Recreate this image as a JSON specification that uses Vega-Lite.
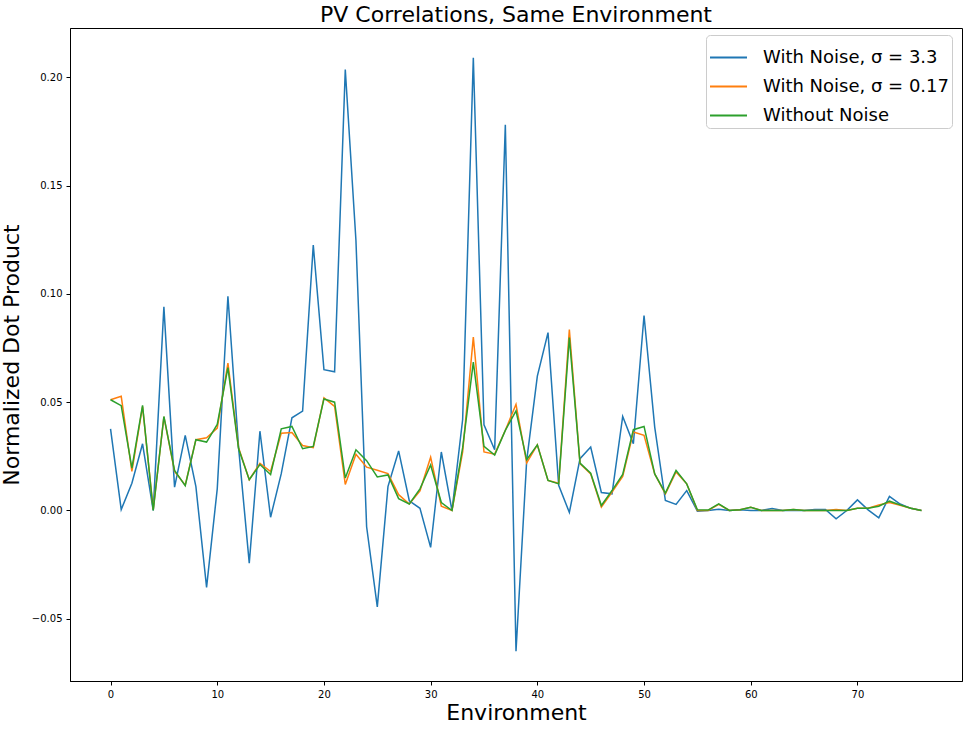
{
"$schema": "https://vega.github.io/schema/vega-lite/v6.json",
"width": 892, "height": 653,
"autosize": {"type": "none"},
"padding": {"left": 70, "top": 28, "right": 6, "bottom": 48},
"background": "white",
"title": {"text": "PV Correlations, Same Environment", "fontSize": 22, "font": "DejaVu Sans", "fontWeight": "normal", "color": "black", "anchor": "middle", "offset": 1},
"config": {
  "font": "DejaVu Sans",
  "view": {"stroke": "black", "strokeWidth": 1},
  "axis": {"grid": false, "domainColor": "black", "tickColor": "black", "labelColor": "black", "labelFontSize": 10, "labelFont": "DejaVu Sans", "tickSize": 4, "labelPadding": 4, "titleFontSize": 22, "titleFontWeight": "normal", "titleColor": "black", "titleFont": "DejaVu Sans"}
},
"data": {"values": [
{"x":0,"s":"a","v":0.0377},{"x":1,"s":"a","v":0.0004},{"x":2,"s":"a","v":0.0126},{"x":3,"s":"a","v":0.0308},{"x":4,"s":"a","v":0.0},{"x":5,"s":"a","v":0.094},{"x":6,"s":"a","v":0.0108},{"x":7,"s":"a","v":0.0347},{"x":8,"s":"a","v":0.011},{"x":9,"s":"a","v":-0.0355},
{"x":10,"s":"a","v":0.01},{"x":11,"s":"a","v":0.0989},{"x":12,"s":"a","v":0.029},{"x":13,"s":"a","v":-0.0243},{"x":14,"s":"a","v":0.0366},{"x":15,"s":"a","v":-0.0031},{"x":16,"s":"a","v":0.017},{"x":17,"s":"a","v":0.0428},{"x":18,"s":"a","v":0.0459},{"x":19,"s":"a","v":0.1225},
{"x":20,"s":"a","v":0.065},{"x":21,"s":"a","v":0.064},{"x":22,"s":"a","v":0.2035},{"x":23,"s":"a","v":0.1245},{"x":24,"s":"a","v":-0.0075},{"x":25,"s":"a","v":-0.0445},{"x":26,"s":"a","v":0.011},{"x":27,"s":"a","v":0.0275},{"x":28,"s":"a","v":0.0045},{"x":29,"s":"a","v":0.001},
{"x":30,"s":"a","v":-0.017},{"x":31,"s":"a","v":0.027},{"x":32,"s":"a","v":0.0},{"x":33,"s":"a","v":0.042},{"x":34,"s":"a","v":0.209},{"x":35,"s":"a","v":0.0395},{"x":36,"s":"a","v":0.028},{"x":37,"s":"a","v":0.178},{"x":38,"s":"a","v":-0.065},{"x":39,"s":"a","v":0.023},
{"x":40,"s":"a","v":0.062},{"x":41,"s":"a","v":0.0821},{"x":42,"s":"a","v":0.0116},{"x":43,"s":"a","v":-0.0009},{"x":44,"s":"a","v":0.0239},{"x":45,"s":"a","v":0.0293},{"x":46,"s":"a","v":0.0083},{"x":47,"s":"a","v":0.0077},{"x":48,"s":"a","v":0.0434},{"x":49,"s":"a","v":0.0308},
{"x":50,"s":"a","v":0.09},{"x":51,"s":"a","v":0.0385},{"x":52,"s":"a","v":0.0046},{"x":53,"s":"a","v":0.0028},{"x":54,"s":"a","v":0.0092},{"x":55,"s":"a","v":-0.0003},{"x":56,"s":"a","v":0.0},{"x":57,"s":"a","v":0.0006},{"x":58,"s":"a","v":0.0},{"x":59,"s":"a","v":0.0003},
{"x":60,"s":"a","v":0.0},{"x":61,"s":"a","v":0.0},{"x":62,"s":"a","v":0.0009},{"x":63,"s":"a","v":0.0},{"x":64,"s":"a","v":0.0},{"x":65,"s":"a","v":0.0},{"x":66,"s":"a","v":0.0005},{"x":67,"s":"a","v":0.0005},{"x":68,"s":"a","v":-0.0038},{"x":69,"s":"a","v":0.0},
{"x":70,"s":"a","v":0.0049},{"x":71,"s":"a","v":0.0003},{"x":72,"s":"a","v":-0.0034},{"x":73,"s":"a","v":0.0065},{"x":74,"s":"a","v":0.003},{"x":75,"s":"a","v":0.001},{"x":76,"s":"a","v":0.0},
{"x":0,"s":"b","v":0.0511},{"x":1,"s":"b","v":0.0527},{"x":2,"s":"b","v":0.018},{"x":3,"s":"b","v":0.048},{"x":4,"s":"b","v":0.0005},{"x":5,"s":"b","v":0.0432},{"x":6,"s":"b","v":0.018},{"x":7,"s":"b","v":0.0117},{"x":8,"s":"b","v":0.0327},{"x":9,"s":"b","v":0.0336},
{"x":10,"s":"b","v":0.038},{"x":11,"s":"b","v":0.068},{"x":12,"s":"b","v":0.029},{"x":13,"s":"b","v":0.0142},{"x":14,"s":"b","v":0.0218},{"x":15,"s":"b","v":0.018},{"x":16,"s":"b","v":0.0357},{"x":17,"s":"b","v":0.036},{"x":18,"s":"b","v":0.03},{"x":19,"s":"b","v":0.029},
{"x":20,"s":"b","v":0.052},{"x":21,"s":"b","v":0.048},{"x":22,"s":"b","v":0.012},{"x":23,"s":"b","v":0.026},{"x":24,"s":"b","v":0.02},{"x":25,"s":"b","v":0.0186},{"x":26,"s":"b","v":0.017},{"x":27,"s":"b","v":0.0073},{"x":28,"s":"b","v":0.003},{"x":29,"s":"b","v":0.009},
{"x":30,"s":"b","v":0.0246},{"x":31,"s":"b","v":0.002},{"x":32,"s":"b","v":0.0},{"x":33,"s":"b","v":0.027},{"x":34,"s":"b","v":0.08},{"x":35,"s":"b","v":0.027},{"x":36,"s":"b","v":0.026},{"x":37,"s":"b","v":0.037},{"x":38,"s":"b","v":0.049},{"x":39,"s":"b","v":0.022},
{"x":40,"s":"b","v":0.0303},{"x":41,"s":"b","v":0.0139},{"x":42,"s":"b","v":0.0126},{"x":43,"s":"b","v":0.0835},{"x":44,"s":"b","v":0.0216},{"x":45,"s":"b","v":0.0169},{"x":46,"s":"b","v":0.0016},{"x":47,"s":"b","v":0.0085},{"x":48,"s":"b","v":0.0157},{"x":49,"s":"b","v":0.0362},
{"x":50,"s":"b","v":0.0347},{"x":51,"s":"b","v":0.0169},{"x":52,"s":"b","v":0.0077},{"x":53,"s":"b","v":0.0178},{"x":54,"s":"b","v":0.0123},{"x":55,"s":"b","v":0.0},{"x":56,"s":"b","v":0.0},{"x":57,"s":"b","v":0.0028},{"x":58,"s":"b","v":0.0},{"x":59,"s":"b","v":0.0003},
{"x":60,"s":"b","v":0.0015},{"x":61,"s":"b","v":0.0},{"x":62,"s":"b","v":0.0},{"x":63,"s":"b","v":0.0},{"x":64,"s":"b","v":0.0005},{"x":65,"s":"b","v":0.0},{"x":66,"s":"b","v":0.0},{"x":67,"s":"b","v":0.0},{"x":68,"s":"b","v":0.0005},{"x":69,"s":"b","v":0.0},
{"x":70,"s":"b","v":0.001},{"x":71,"s":"b","v":0.001},{"x":72,"s":"b","v":0.0025},{"x":73,"s":"b","v":0.0037},{"x":74,"s":"b","v":0.0024},{"x":75,"s":"b","v":0.001},{"x":76,"s":"b","v":0.0},
{"x":0,"s":"c","v":0.0511},{"x":1,"s":"c","v":0.0484},{"x":2,"s":"c","v":0.0195},{"x":3,"s":"c","v":0.0485},{"x":4,"s":"c","v":0.0},{"x":5,"s":"c","v":0.0434},{"x":6,"s":"c","v":0.0185},{"x":7,"s":"c","v":0.0115},{"x":8,"s":"c","v":0.0327},{"x":9,"s":"c","v":0.0316},
{"x":10,"s":"c","v":0.0397},{"x":11,"s":"c","v":0.0659},{"x":12,"s":"c","v":0.0285},{"x":13,"s":"c","v":0.0142},{"x":14,"s":"c","v":0.0212},{"x":15,"s":"c","v":0.0166},{"x":16,"s":"c","v":0.0377},{"x":17,"s":"c","v":0.0388},{"x":18,"s":"c","v":0.0285},{"x":19,"s":"c","v":0.0296},
{"x":20,"s":"c","v":0.0515},{"x":21,"s":"c","v":0.05},{"x":22,"s":"c","v":0.015},{"x":23,"s":"c","v":0.028},{"x":24,"s":"c","v":0.023},{"x":25,"s":"c","v":0.0155},{"x":26,"s":"c","v":0.0164},{"x":27,"s":"c","v":0.0055},{"x":28,"s":"c","v":0.003},{"x":29,"s":"c","v":0.01},
{"x":30,"s":"c","v":0.021},{"x":31,"s":"c","v":0.0037},{"x":32,"s":"c","v":0.0},{"x":33,"s":"c","v":0.029},{"x":34,"s":"c","v":0.0685},{"x":35,"s":"c","v":0.0296},{"x":36,"s":"c","v":0.0256},{"x":37,"s":"c","v":0.037},{"x":38,"s":"c","v":0.046},{"x":39,"s":"c","v":0.0234},
{"x":40,"s":"c","v":0.0303},{"x":41,"s":"c","v":0.0139},{"x":42,"s":"c","v":0.0123},{"x":43,"s":"c","v":0.0798},{"x":44,"s":"c","v":0.0219},{"x":45,"s":"c","v":0.0172},{"x":46,"s":"c","v":0.0023},{"x":47,"s":"c","v":0.0092},{"x":48,"s":"c","v":0.0166},{"x":49,"s":"c","v":0.0373},
{"x":50,"s":"c","v":0.0388},{"x":51,"s":"c","v":0.0169},{"x":52,"s":"c","v":0.008},{"x":53,"s":"c","v":0.0185},{"x":54,"s":"c","v":0.0123},{"x":55,"s":"c","v":0.0003},{"x":56,"s":"c","v":0.0002},{"x":57,"s":"c","v":0.0031},{"x":58,"s":"c","v":0.0},{"x":59,"s":"c","v":0.0003},
{"x":60,"s":"c","v":0.0015},{"x":61,"s":"c","v":0.0},{"x":62,"s":"c","v":0.0},{"x":63,"s":"c","v":0.0},{"x":64,"s":"c","v":0.0005},{"x":65,"s":"c","v":0.0},{"x":66,"s":"c","v":0.0},{"x":67,"s":"c","v":0.0},{"x":68,"s":"c","v":0.0},{"x":69,"s":"c","v":0.0},
{"x":70,"s":"c","v":0.001},{"x":71,"s":"c","v":0.001},{"x":72,"s":"c","v":0.002},{"x":73,"s":"c","v":0.0043},{"x":74,"s":"c","v":0.0026},{"x":75,"s":"c","v":0.001},{"x":76,"s":"c","v":0.0}
]},
"mark": {"type": "line", "strokeWidth": 1.5, "clip": true},
"encoding": {
  "x": {"field": "x", "type": "quantitative", "scale": {"domain": [-3.8, 79.8], "nice": false, "zero": false}, "axis": {"values": [0,10,20,30,40,50,60,70], "title": "Environment", "titlePadding": 3}},
  "y": {"field": "v", "type": "quantitative", "scale": {"domain": [-0.0787, 0.2227], "nice": false, "zero": false}, "axis": {"values": [-0.05,0,0.05,0.1,0.15,0.2], "format": ".2f", "title": "Normalized Dot Product", "titlePadding": 8}},
  "color": {"field": "s", "type": "nominal", "scale": {"domain": ["a","b","c"], "range": ["#1f77b4","#ff7f0e","#2ca02c"]},
    "legend": {"title": null, "orient": "none", "legendX": 636, "legendY": 7, "labelExpr": "datum.label == 'a' ? 'With Noise, σ = 3.3' : datum.label == 'b' ? 'With Noise, σ = 0.17' : 'Without Noise'", "labelFontSize": 18, "labelFont": "DejaVu Sans", "labelColor": "black", "symbolType": "stroke", "symbolSize": 1369, "symbolStrokeWidth": 2, "labelOffset": 15, "rowPadding": -1, "padding": 3, "offset": 0, "strokeColor": "#cccccc", "fillColor": "white", "cornerRadius": 4, "labelLimit": 400, "labelBaseline": "middle", "symbolOffset": 0}}
}
}
